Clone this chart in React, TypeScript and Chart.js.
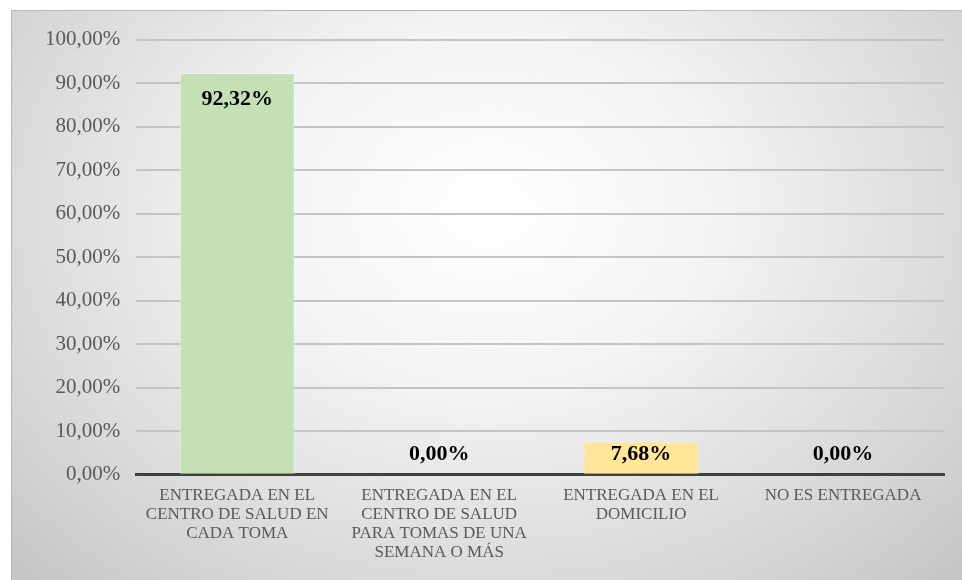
import React, { useEffect, useRef } from "react";
import { Chart, registerables } from "chart.js";

Chart.register(...registerables);

const categories: string[][] = [
  ["ENTREGADA EN EL", "CENTRO DE SALUD EN", "CADA TOMA"],
  ["ENTREGADA EN EL", "CENTRO DE SALUD", "PARA TOMAS DE UNA", "SEMANA O MÁS"],
  ["ENTREGADA EN EL", "DOMICILIO"],
  ["NO ES ENTREGADA"],
];
const values: number[] = [92.32, 0, 7.68, 0];
const barColors: string[] = ["#C5E0B4", "#C5E0B4", "#FFE699", "#FFE699"];
const yMax = 100;
const yStep = 10;

const FAMILY = "Liberation Serif, Times New Roman, serif";
const fmt = (v: number) => v.toFixed(2).replace(".", ",") + "%";

const labelPlugin = {
  id: "valueLabels",
  afterDatasetsDraw(chart: any) {
    const { ctx, scales } = chart;
    const meta = chart.getDatasetMeta(0);
    const y0 = scales.y.getPixelForValue(0);
    ctx.save();
    ctx.font = "bold 22px " + FAMILY;
    ctx.fillStyle = "#000000";
    ctx.textAlign = "center";
    ctx.textBaseline = "middle";
    meta.data.forEach((bar: any, i: number) => {
      const yv = scales.y.getPixelForValue(values[i]);
      const y = Math.min(yv + 26, y0 - 21);
      ctx.fillText(fmt(values[i]), bar.x, y);
    });
    ctx.restore();
  },
};

export default function App() {
  const ref = useRef<HTMLCanvasElement | null>(null);
  useEffect(() => {
    document.body.style.margin = "0";
    document.body.style.overflow = "hidden";
    const chart = new Chart(ref.current!, {
      type: "bar",
      data: {
        labels: categories,
        datasets: [
          {
            data: values,
            backgroundColor: barColors,
            borderColor: "rgba(255,255,255,0.5)",
            borderWidth: 1,
            barPercentage: 0.57,
            categoryPercentage: 1,
          },
        ],
      },
      options: {
        animation: false,
        responsive: false,
        maintainAspectRatio: false,
        layout: { padding: { left: 17, right: 18, top: 26, bottom: 7 } },
        plugins: { legend: { display: false }, tooltip: { enabled: false } },
        scales: {
          x: {
            grid: { display: false, drawTicks: false },
            border: { display: true, color: "#404040", width: 3 },
            ticks: {
              color: "#595959",
              font: { family: FAMILY, size: 17, lineHeight: 1.12 },
              padding: 11,
              maxRotation: 0,
              autoSkip: false,
            },
          },
          y: {
            min: 0,
            max: yMax,
            grid: { color: "#c4c4c4", lineWidth: 2, drawTicks: false },
            border: { display: false },
            ticks: {
              stepSize: yStep,
              color: "#595959",
              font: { family: FAMILY, size: 21 },
              padding: 16,
              callback: (v: any) => fmt(Number(v)),
            },
          },
        },
      },
      plugins: [labelPlugin],
    });
    return () => chart.destroy();
  }, []);
  return (
    <div
      style={{
        position: "absolute",
        left: 11,
        top: 10,
        width: 951,
        height: 570,
        borderTop: "1px solid #b8b8b8",
        borderLeft: "1px solid #b8b8b8",
        background:
          "radial-gradient(ellipse farthest-corner at 50% 35%, #ffffff 0%, #f3f3f3 35%, #d4d4d4 80%, #c4c4c4 100%)",
        boxSizing: "border-box",
      }}
    >
      <canvas ref={ref} width={950} height={569} />
    </div>
  );
}
